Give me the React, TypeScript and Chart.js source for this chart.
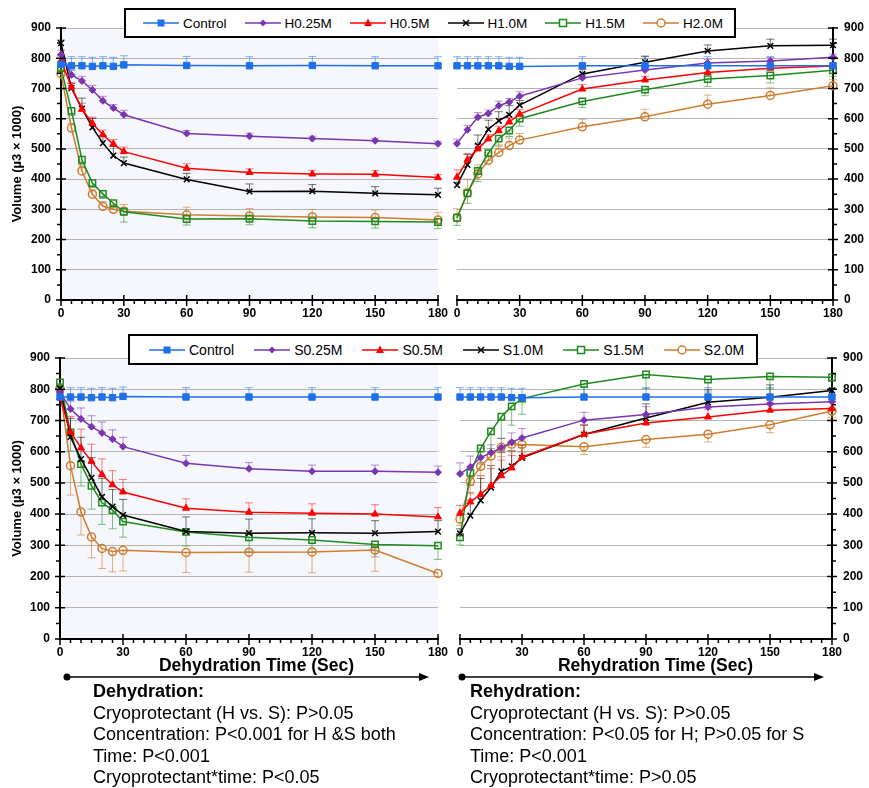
import React, { useEffect, useRef } from 'react';
import { Chart, registerables } from 'chart.js';

Chart.register(...registerables);

// ---------- DATA ----------
const times = [0, 5, 10, 15, 20, 25, 30, 60, 90, 120, 150, 180];

const namesH = ['Control', 'H0.25M', 'H0.5M', 'H1.0M', 'H1.5M', 'H2.0M'];
const namesS = ['Control', 'S0.25M', 'S0.5M', 'S1.0M', 'S1.5M', 'S2.0M'];

// H – dehydration
const hDehControl = [780, 775, 775, 773, 775, 773, 778, 776, 775, 776, 775, 775];
const hDeh025 = [812, 745, 725, 695, 659, 635, 613, 551, 542, 534, 527, 517];
const hDeh05 = [792, 705, 631, 585, 547, 516, 491, 436, 422, 417, 416, 405];
const hDeh10 = [850, 701, 633, 571, 519, 478, 453, 399, 359, 360, 353, 348];
const hDeh15 = [767, 626, 464, 387, 351, 320, 292, 268, 269, 261, 260, 258];
const hDeh20 = [749, 569, 427, 350, 310, 300, 294, 282, 278, 275, 273, 265];

// H – rehydration
const hRehControl = [775, 775, 775, 775, 775, 773, 773, 775, 775, 775, 775, 775];
const hReh025 = [517, 563, 605, 617, 643, 655, 674, 735, 761, 784, 791, 803];
const hReh05 = [406, 464, 500, 533, 560, 589, 615, 698, 728, 753, 767, 774];
const hReh10 = [380, 447, 511, 565, 593, 613, 645, 748, 787, 824, 841, 843];
const hReh15 = [272, 353, 427, 486, 534, 561, 600, 657, 696, 731, 743, 760];
const hReh20 = [272, 355, 417, 462, 488, 511, 529, 573, 606, 648, 677, 709];

// S – dehydration
const sDehControl = [775, 775, 775, 773, 775, 773, 777, 775, 775, 775, 775, 775];
const sDeh025 = [790, 737, 705, 680, 660, 640, 616, 563, 545, 537, 537, 534];
const sDeh05 = [773, 663, 612, 569, 527, 494, 471, 419, 406, 403, 400, 391];
const sDeh10 = [802, 647, 576, 516, 455, 424, 397, 344, 339, 340, 339, 344];
const sDeh15 = [822, 662, 560, 491, 437, 413, 376, 343, 326, 317, 303, 299];
const sDeh20 = [802, 555, 407, 327, 290, 280, 284, 277, 278, 279, 285, 210];

// S – rehydration
const sRehControl = [775, 775, 775, 775, 775, 773, 773, 775, 775, 775, 775, 775];
const sReh025 = [529, 551, 581, 597, 613, 630, 644, 701, 719, 743, 753, 760];
const sReh05 = [403, 439, 463, 491, 523, 548, 583, 656, 692, 711, 733, 738];
const sReh10 = [338, 395, 444, 485, 537, 553, 580, 655, 708, 758, 774, 796];
const sReh15 = [326, 532, 610, 665, 712, 745, 770, 817, 847, 831, 841, 838];
const sReh20 = [384, 505, 553, 586, 614, 624, 623, 616, 639, 656, 686, 730];

// error bar sizes
const ctrlErr = [30, 30, 30, 30, 30, 30, 30, 30, 30, 30, 30, 30];
const hDehErr025 = [15, 15, 15, 15, 15, 12, 15, 10, 10, 8, 8, 8];
const hDehErr05 = [15, 15, 20, 20, 15, 15, 15, 15, 12, 12, 12, 10];
const hDehErr10 = [10, 15, 35, 30, 25, 30, 20, 20, 25, 22, 22, 22];
const hDehErr15 = [10, 15, 15, 15, 15, 15, 34, 20, 20, 22, 22, 22];
const hDehErr20 = [10, 15, 15, 15, 15, 15, 22, 25, 25, 25, 25, 25];

const hRehErr025 = [15, 15, 15, 12, 15, 12, 15, 12, 12, 12, 12, 10];
const hRehErr05 = [25, 20, 15, 15, 15, 15, 15, 15, 12, 12, 12, 10];
const hRehErr10 = [10, 35, 35, 30, 30, 30, 15, 15, 20, 20, 22, 20];
const hRehErr15 = [25, 33, 35, 25, 25, 20, 25, 20, 20, 25, 25, 20];
const hRehErr20 = [30, 45, 30, 25, 25, 25, 22, 25, 25, 30, 25, 20];

const sDehErr025 = [20, 25, 35, 35, 35, 30, 30, 25, 20, 20, 20, 20];
const sDehErr05 = [20, 50, 60, 55, 50, 45, 40, 30, 30, 30, 30, 30];
const sDehErr10 = [15, 60, 70, 65, 60, 55, 50, 47, 45, 45, 40, 35];
const sDehErr15 = [15, 60, 70, 75, 70, 60, 50, 45, 45, 40, 40, 44];
const sDehErr20 = [15, 94, 74, 67, 64, 65, 66, 64, 64, 67, 68, 10];

const sRehErr025 = [35, 35, 30, 25, 30, 30, 30, 25, 25, 25, 25, 20];
const sRehErr05 = [25, 30, 60, 55, 50, 40, 30, 30, 30, 25, 25, 20];
const sRehErr10 = [15, 50, 70, 70, 60, 50, 40, 30, 45, 40, 40, 30];
const sRehErr15 = [25, 40, 50, 55, 70, 60, 50, 40, 45, 40, 40, 40];
const sRehErr20 = [20, 40, 30, 30, 30, 25, 25, 25, 25, 25, 25, 20];

const dirsH = ['up', 'up', 'up', 'up', 'down', 'up'];
const dirsS = ['up', 'up', 'up', 'up', 'down', 'down'];

// ---------- STYLE ----------
const seriesColors = ['#1f6fea', '#7a35b0', '#ff0000', '#000000', '#1f8a1f', '#cf7d2f'];
const errColors = ['rgba(31,111,234,0.55)', 'rgba(122,53,176,0.55)', 'rgba(255,0,0,0.5)', 'rgba(0,0,0,0.55)', 'rgba(31,138,31,0.55)', 'rgba(207,125,47,0.6)'];
const pointStyles = ['rect', 'rectRot', 'triangle', 'crossRot', 'rect', 'circle'];
const pointRadii = [4.5, 3.5, 4, 4, 4.5, 4];
const hollow = [false, false, false, false, true, true];
const FONT = '"Liberation Sans", Arial, Helvetica, sans-serif';

function buildDatasets(names: string[], values: number[][], errs: number[][], dirs: string[]) {
  return names.map((name, i) => ({
    label: name,
    data: times.map((t, j) => ({ x: t, y: values[i][j] })),
    borderColor: seriesColors[i],
    backgroundColor: hollow[i] ? 'rgba(255,255,255,0)' : seriesColors[i],
    pointBackgroundColor: hollow[i] ? 'rgba(255,255,255,0)' : seriesColors[i],
    pointBorderColor: seriesColors[i],
    pointStyle: pointStyles[i],
    pointRadius: pointRadii[i],
    pointBorderWidth: hollow[i] || i === 3 ? 1.5 : 1,
    borderWidth: 1.5,
    tension: 0,
    clip: false,
    errorValues: errs[i],
    errorDir: dirs[i],
    errorColor: errColors[i],
  }));
}

const bgPlugin = {
  id: 'panelBg',
  beforeDraw(chart: any, _args: any, opts: any) {
    if (!opts || !opts.color) return;
    const { ctx, chartArea } = chart;
    ctx.save();
    ctx.fillStyle = opts.color;
    ctx.fillRect(chartArea.left, chartArea.top, chartArea.right - chartArea.left, chartArea.bottom - chartArea.top);
    ctx.restore();
  },
};

const errorBarPlugin = {
  id: 'errorBars',
  beforeDatasetsDraw(chart: any) {
    const { ctx } = chart;
    const ys = chart.scales.y;
    chart.data.datasets.forEach((ds: any, i: number) => {
      if (!ds.errorValues) return;
      const meta = chart.getDatasetMeta(i);
      ctx.save();
      ctx.strokeStyle = ds.errorColor;
      ctx.lineWidth = 1;
      ds.data.forEach((d: any, j: number) => {
        const el = meta.data[j];
        if (!el) return;
        const e = ds.errorValues[j];
        const x = el.x;
        const y = el.y;
        const yUp = ys.getPixelForValue(d.y + e);
        const yDn = ys.getPixelForValue(d.y - e);
        const y1 = ds.errorDir === 'down' ? y : yUp;
        const y2 = ds.errorDir === 'up' ? y : yDn;
        ctx.beginPath();
        ctx.moveTo(x, y1);
        ctx.lineTo(x, y2);
        if (ds.errorDir !== 'down') {
          ctx.moveTo(x - 4, yUp);
          ctx.lineTo(x + 4, yUp);
        }
        if (ds.errorDir !== 'up') {
          ctx.moveTo(x - 4, yDn);
          ctx.lineTo(x + 4, yDn);
        }
        ctx.stroke();
      });
      ctx.restore();
    });
  },
};

const axisTickPlugin = {
  id: 'axisTicks',
  afterDatasetsDraw(chart: any) {
    const { ctx, chartArea } = chart;
    const xs = chart.scales.x;
    const ys = chart.scales.y;
    ctx.save();
    ctx.strokeStyle = '#000';
    ctx.lineWidth = 1.5;
    ctx.beginPath();
    const by = chartArea.bottom;
    for (let v = xs.min; v <= xs.max; v += 5) {
      const px = xs.getPixelForValue(v);
      if (v % 30 === 0) {
        ctx.moveTo(px, by - 5);
        ctx.lineTo(px, by + 6);
      } else {
        ctx.moveTo(px, by);
        ctx.lineTo(px, by + 4);
      }
    }
    const isLeft = ys.position === 'left';
    const ax = isLeft ? chartArea.left : chartArea.right;
    const out = isLeft ? -1 : 1;
    for (let v = ys.min; v <= ys.max; v += 50) {
      const py = ys.getPixelForValue(v);
      if (v % 100 === 0) {
        ctx.moveTo(ax - 5, py);
        ctx.lineTo(ax + 5, py);
      } else {
        ctx.moveTo(ax, py);
        ctx.lineTo(ax + out * 4, py);
      }
    }
    ctx.stroke();
    ctx.restore();
  },
};

const W = 869;
const H = 788;

type Panel = {
  names: string[];
  values: number[][];
  errs: number[][];
  dirs: string[];
  side: 'left' | 'right';
  area: { l: number; t: number; r: number; b: number };
  bg: string | null;
};

const panels: Panel[] = [
  {
    names: namesH,
    values: [hDehControl, hDeh025, hDeh05, hDeh10, hDeh15, hDeh20],
    errs: [ctrlErr, hDehErr025, hDehErr05, hDehErr10, hDehErr15, hDehErr20],
    dirs: dirsH,
    side: 'left',
    area: { l: 61, t: 28, r: 438, b: 300 },
    bg: '#f5f7fc',
  },
  {
    names: namesH,
    values: [hRehControl, hReh025, hReh05, hReh10, hReh15, hReh20],
    errs: [ctrlErr, hRehErr025, hRehErr05, hRehErr10, hRehErr15, hRehErr20],
    dirs: dirsH,
    side: 'right',
    area: { l: 457, t: 28, r: 833, b: 300 },
    bg: null,
  },
  {
    names: namesS,
    values: [sDehControl, sDeh025, sDeh05, sDeh10, sDeh15, sDeh20],
    errs: [ctrlErr, sDehErr025, sDehErr05, sDehErr10, sDehErr15, sDehErr20],
    dirs: dirsS,
    side: 'left',
    area: { l: 60, t: 358, r: 438, b: 639 },
    bg: '#f5f7fc',
  },
  {
    names: namesS,
    values: [sRehControl, sReh025, sReh05, sReh10, sReh15, sReh20],
    errs: [ctrlErr, sRehErr025, sRehErr05, sRehErr10, sRehErr15, sRehErr20],
    dirs: dirsS,
    side: 'right',
    area: { l: 460, t: 358, r: 832, b: 639 },
    bg: null,
  },
];

function makeConfig(p: Panel): any {
  const isLeft = p.side === 'left';
  const yWidth = isLeft ? p.area.l : W - p.area.r;
  const xHeight = 25;
  const tickFont = { family: FONT, size: 12, weight: 'bold' };
  return {
    type: 'line',
    data: { datasets: buildDatasets(p.names, p.values, p.errs, p.dirs) },
    options: {
      animation: false,
      responsive: false,
      events: [],
      layout: {
        padding: {
          left: isLeft ? 0 : p.area.l,
          right: isLeft ? W - p.area.r : 0,
          top: p.area.t,
          bottom: H - p.area.b - xHeight,
        },
      },
      plugins: {
        legend: { display: false },
        tooltip: { enabled: false },
        panelBg: { color: p.bg },
      },
      scales: {
        x: {
          type: 'linear',
          min: 0,
          max: 180,
          afterFit: (s: any) => {
            s.height = xHeight;
          },
          ticks: { stepSize: 30, font: tickFont, color: '#000', padding: 6, maxRotation: 0 },
          grid: { drawOnChartArea: false, drawTicks: false, color: 'rgba(0,0,0,0)' },
          border: { display: true, color: '#000', width: 2 },
        },
        y: {
          position: isLeft ? 'left' : 'right',
          min: 0,
          max: 900,
          afterFit: (s: any) => {
            s.width = yWidth;
          },
          ticks: { stepSize: 100, font: tickFont, color: '#000', padding: isLeft ? 10 : 11 },
          grid: { color: '#b4b4b4', lineWidth: 1, drawTicks: false },
          border: { display: true, color: '#000', width: 2 },
          title: isLeft
            ? {
                display: true,
                text: 'Volume (µ3 × 1000)',
                color: '#000',
                font: { family: FONT, size: 13, weight: 'bold' },
                padding: { top: 10, bottom: 0 },
              }
            : { display: false },
        },
      },
    },
    plugins: [bgPlugin, errorBarPlugin, axisTickPlugin],
  };
}

function Marker({ i }: { i: number }) {
  const c = seriesColors[i];
  let shape: React.ReactNode = null;
  if (i === 0) shape = <rect x={14.5} y={3.5} width={7} height={7} fill={c} />;
  else if (i === 1) shape = <polygon points="18,3.5 21.5,7 18,10.5 14.5,7" fill={c} />;
  else if (i === 2) shape = <polygon points="18,2.5 22,10 14,10" fill={c} />;
  else if (i === 3) shape = <path d="M15,4 L21,10 M21,4 L15,10" stroke={c} strokeWidth={1.5} />;
  else if (i === 4) shape = <rect x={14.5} y={3.5} width={7} height={7} fill="#fff" stroke={c} strokeWidth={1.5} />;
  else shape = <circle cx={18} cy={7} r={4} fill="#fff" stroke={c} strokeWidth={1.5} />;
  return (
    <svg width={36} height={14} style={{ display: 'block' }}>
      <line x1={0} y1={7} x2={36} y2={7} stroke={c} strokeWidth={1.5} />
      {shape}
    </svg>
  );
}

function Legend({ names, left, top, width, height, padLeft, gap, fontSize }: any) {
  return (
    <div
      style={{
        position: 'absolute',
        left,
        top,
        width,
        height,
        boxSizing: 'border-box',
        border: '2px solid #000',
        background: '#fff',
        display: 'flex',
        alignItems: 'center',
        paddingLeft: padLeft,
        gap,
        fontFamily: FONT,
        fontSize,
        color: '#000',
        whiteSpace: 'nowrap',
      }}
    >
      {names.map((n: string, i: number) => (
        <div key={n} style={{ display: 'flex', alignItems: 'center', gap: 4 }}>
          <Marker i={i} />
          <span>{n}</span>
        </div>
      ))}
    </div>
  );
}

const dehLines = [
  'Cryoprotectant (H vs. S): P>0.05',
  'Concentration: P<0.001 for H &S both',
  'Time: P<0.001',
  'Cryoprotectant*time: P<0.05',
];
const rehLines = [
  'Cryoprotectant (H vs. S): P>0.05',
  'Concentration: P<0.05 for H; P>0.05 for S',
  'Time: P<0.001',
  'Cryoprotectant*time: P>0.05',
];

function TextBlock({ left, title, lines }: { left: number; title: string; lines: string[] }) {
  return (
    <div
      style={{
        position: 'absolute',
        left,
        top: 681,
        fontFamily: FONT,
        fontSize: 18,
        lineHeight: '21.5px',
        color: '#000',
        whiteSpace: 'nowrap',
      }}
    >
      <div style={{ fontWeight: 'bold' }}>{title}</div>
      {lines.map((l) => (
        <div key={l}>{l}</div>
      ))}
    </div>
  );
}

export default function App() {
  const refs = [useRef<HTMLCanvasElement>(null), useRef<HTMLCanvasElement>(null), useRef<HTMLCanvasElement>(null), useRef<HTMLCanvasElement>(null)];

  useEffect(() => {
    const charts = panels.map((p, i) => new Chart(refs[i].current as HTMLCanvasElement, makeConfig(p)));
    return () => charts.forEach((c) => c.destroy());
  }, []);

  return (
    <div style={{ position: 'absolute', left: 0, top: 0, width: W, height: H, background: '#fff', overflow: 'hidden' }}>
      {refs.map((r, i) => (
        <canvas key={i} ref={r} width={W} height={H} style={{ position: 'absolute', left: 0, top: 0, width: W, height: H }} />
      ))}
      <Legend names={namesH} left={124} top={8} width={612} height={30} padLeft={17} gap={18} fontSize={13.5} />
      <Legend names={namesS} left={128} top={334} width={630} height={31} padLeft={19} gap={20} fontSize={14} />
      <div style={{ position: 'absolute', left: 158, top: 655, width: 197, textAlign: 'center', fontFamily: FONT, fontWeight: 'bold', fontSize: 17.5, whiteSpace: 'nowrap' }}>
        Dehydration Time (Sec)
      </div>
      <div style={{ position: 'absolute', left: 557, top: 655, width: 197, textAlign: 'center', fontFamily: FONT, fontWeight: 'bold', fontSize: 17.5, whiteSpace: 'nowrap' }}>
        Rehydration Time (Sec)
      </div>
      <svg width={W} height={H} style={{ position: 'absolute', left: 0, top: 0, pointerEvents: 'none' }}>
        <circle cx={67} cy={677} r={3.5} fill="#000" />
        <line x1={67} y1={677} x2={420} y2={677} stroke="#000" strokeWidth={1.5} />
        <polygon points="429,677 419,673 419,681" fill="#000" />
        <circle cx={462} cy={677} r={3.5} fill="#000" />
        <line x1={462} y1={677} x2={815} y2={677} stroke="#000" strokeWidth={1.5} />
        <polygon points="824,677 814,673 814,681" fill="#000" />
      </svg>
      <TextBlock left={93} title="Dehydration:" lines={dehLines} />
      <TextBlock left={470} title="Rehydration:" lines={rehLines} />
    </div>
  );
}
